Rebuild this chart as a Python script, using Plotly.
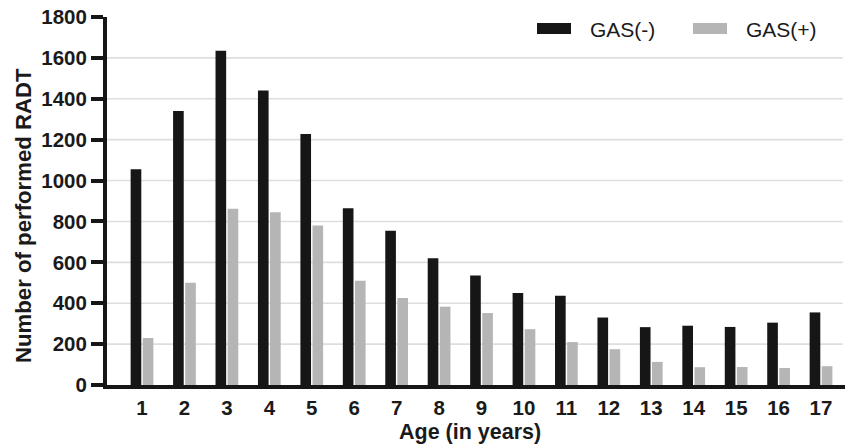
import plotly.graph_objects as go

ages = list(range(1, 18))
age_labels = [str(a) for a in ages]
gas_neg = [1055, 1340, 1635, 1440, 1228, 865, 755, 620, 535, 450, 436, 330, 283, 290, 284, 305, 355]
gas_pos = [230, 500, 862, 845, 780, 510, 425, 383, 352, 273, 210, 175, 113, 87, 88, 83, 92]
series_names = ["GAS(-)", "GAS(+)"]
y_ticks = list(range(0, 2000, 200))
grid_vals = list(range(200, 1800, 200))

W, H = 845, 446
L, R, T, B = 107, 0, 17, 61
pw, ph = W - L - R, H - T - B

def px_x(px):
    return (px - L) / pw

def px_y(py):
    return (H - B - py) / ph

BLACK = "#161616"
GREY = "#b5b5b5"
TXT = "#1a1a1a"
FONT = "Liberation Sans"

fig = go.Figure()
fig.add_trace(go.Bar(x=ages, y=gas_neg, name=series_names[0], marker=dict(color=BLACK, line=dict(width=0))))
fig.add_trace(go.Bar(x=ages, y=gas_pos, name=series_names[1], marker=dict(color=GREY, line=dict(width=0))))

shapes = []
for g in grid_vals:
    shapes.append(dict(type="line", xref="paper", yref="y", x0=0, x1=0.997, y0=g, y1=g,
                       line=dict(color="#dedede", width=1.6), layer="below"))
# legend swatches
shapes.append(dict(type="rect", xref="paper", yref="paper", x0=px_x(537), x1=px_x(571),
                   y0=px_y(34), y1=px_y(23), fillcolor=BLACK, line=dict(width=0)))
shapes.append(dict(type="rect", xref="paper", yref="paper", x0=px_x(693), x1=px_x(727),
                   y0=px_y(34), y1=px_y(23), fillcolor=GREY, line=dict(width=0)))

annotations = [
    dict(text=series_names[0], xref="paper", yref="paper", x=px_x(588), y=px_y(29), xanchor="left", yanchor="middle",
         showarrow=False, font=dict(family=FONT, size=21, color=TXT)),
    dict(text=series_names[1], xref="paper", yref="paper", x=px_x(744), y=px_y(29), xanchor="left", yanchor="middle",
         showarrow=False, font=dict(family=FONT, size=21, color=TXT)),
    dict(text="Age (in years)", xref="paper", yref="paper", x=px_x(470), y=px_y(432), xanchor="center", yanchor="middle",
         showarrow=False, font=dict(family=FONT, size=21.5, color=TXT, weight="bold")),
    dict(text="Number of performed RADT", xref="paper", yref="paper", x=px_x(23), y=px_y(216), xanchor="center", yanchor="middle",
         textangle=-90, showarrow=False, font=dict(family=FONT, size=22.2, color=TXT, weight="bold")),
]

fig.update_layout(
    width=W, height=H,
    margin=dict(l=L, r=R, t=T, b=B),
    paper_bgcolor="white", plot_bgcolor="white",
    barmode="group", bargap=0.43, bargroupgap=0.12,
    showlegend=False,
    shapes=shapes, annotations=annotations,
    xaxis=dict(range=[0.175, 17.565], tickvals=ages, ticktext=age_labels, ticks="",
               showline=True, linecolor=BLACK, linewidth=4, showgrid=False, zeroline=False,
               tickfont=dict(family=FONT, size=20.5, color=TXT, weight="bold"), ticklabelstandoff=1),
    yaxis=dict(range=[0, 1800], tickvals=y_ticks, ticks="outside", ticklen=12, tickwidth=3.5, tickcolor=BLACK,
               showline=True, linecolor=BLACK, linewidth=4, showgrid=False, zeroline=False,
               tickfont=dict(family=FONT, size=20.5, color=TXT, weight="bold")),
)

fig.write_html("out.html")
